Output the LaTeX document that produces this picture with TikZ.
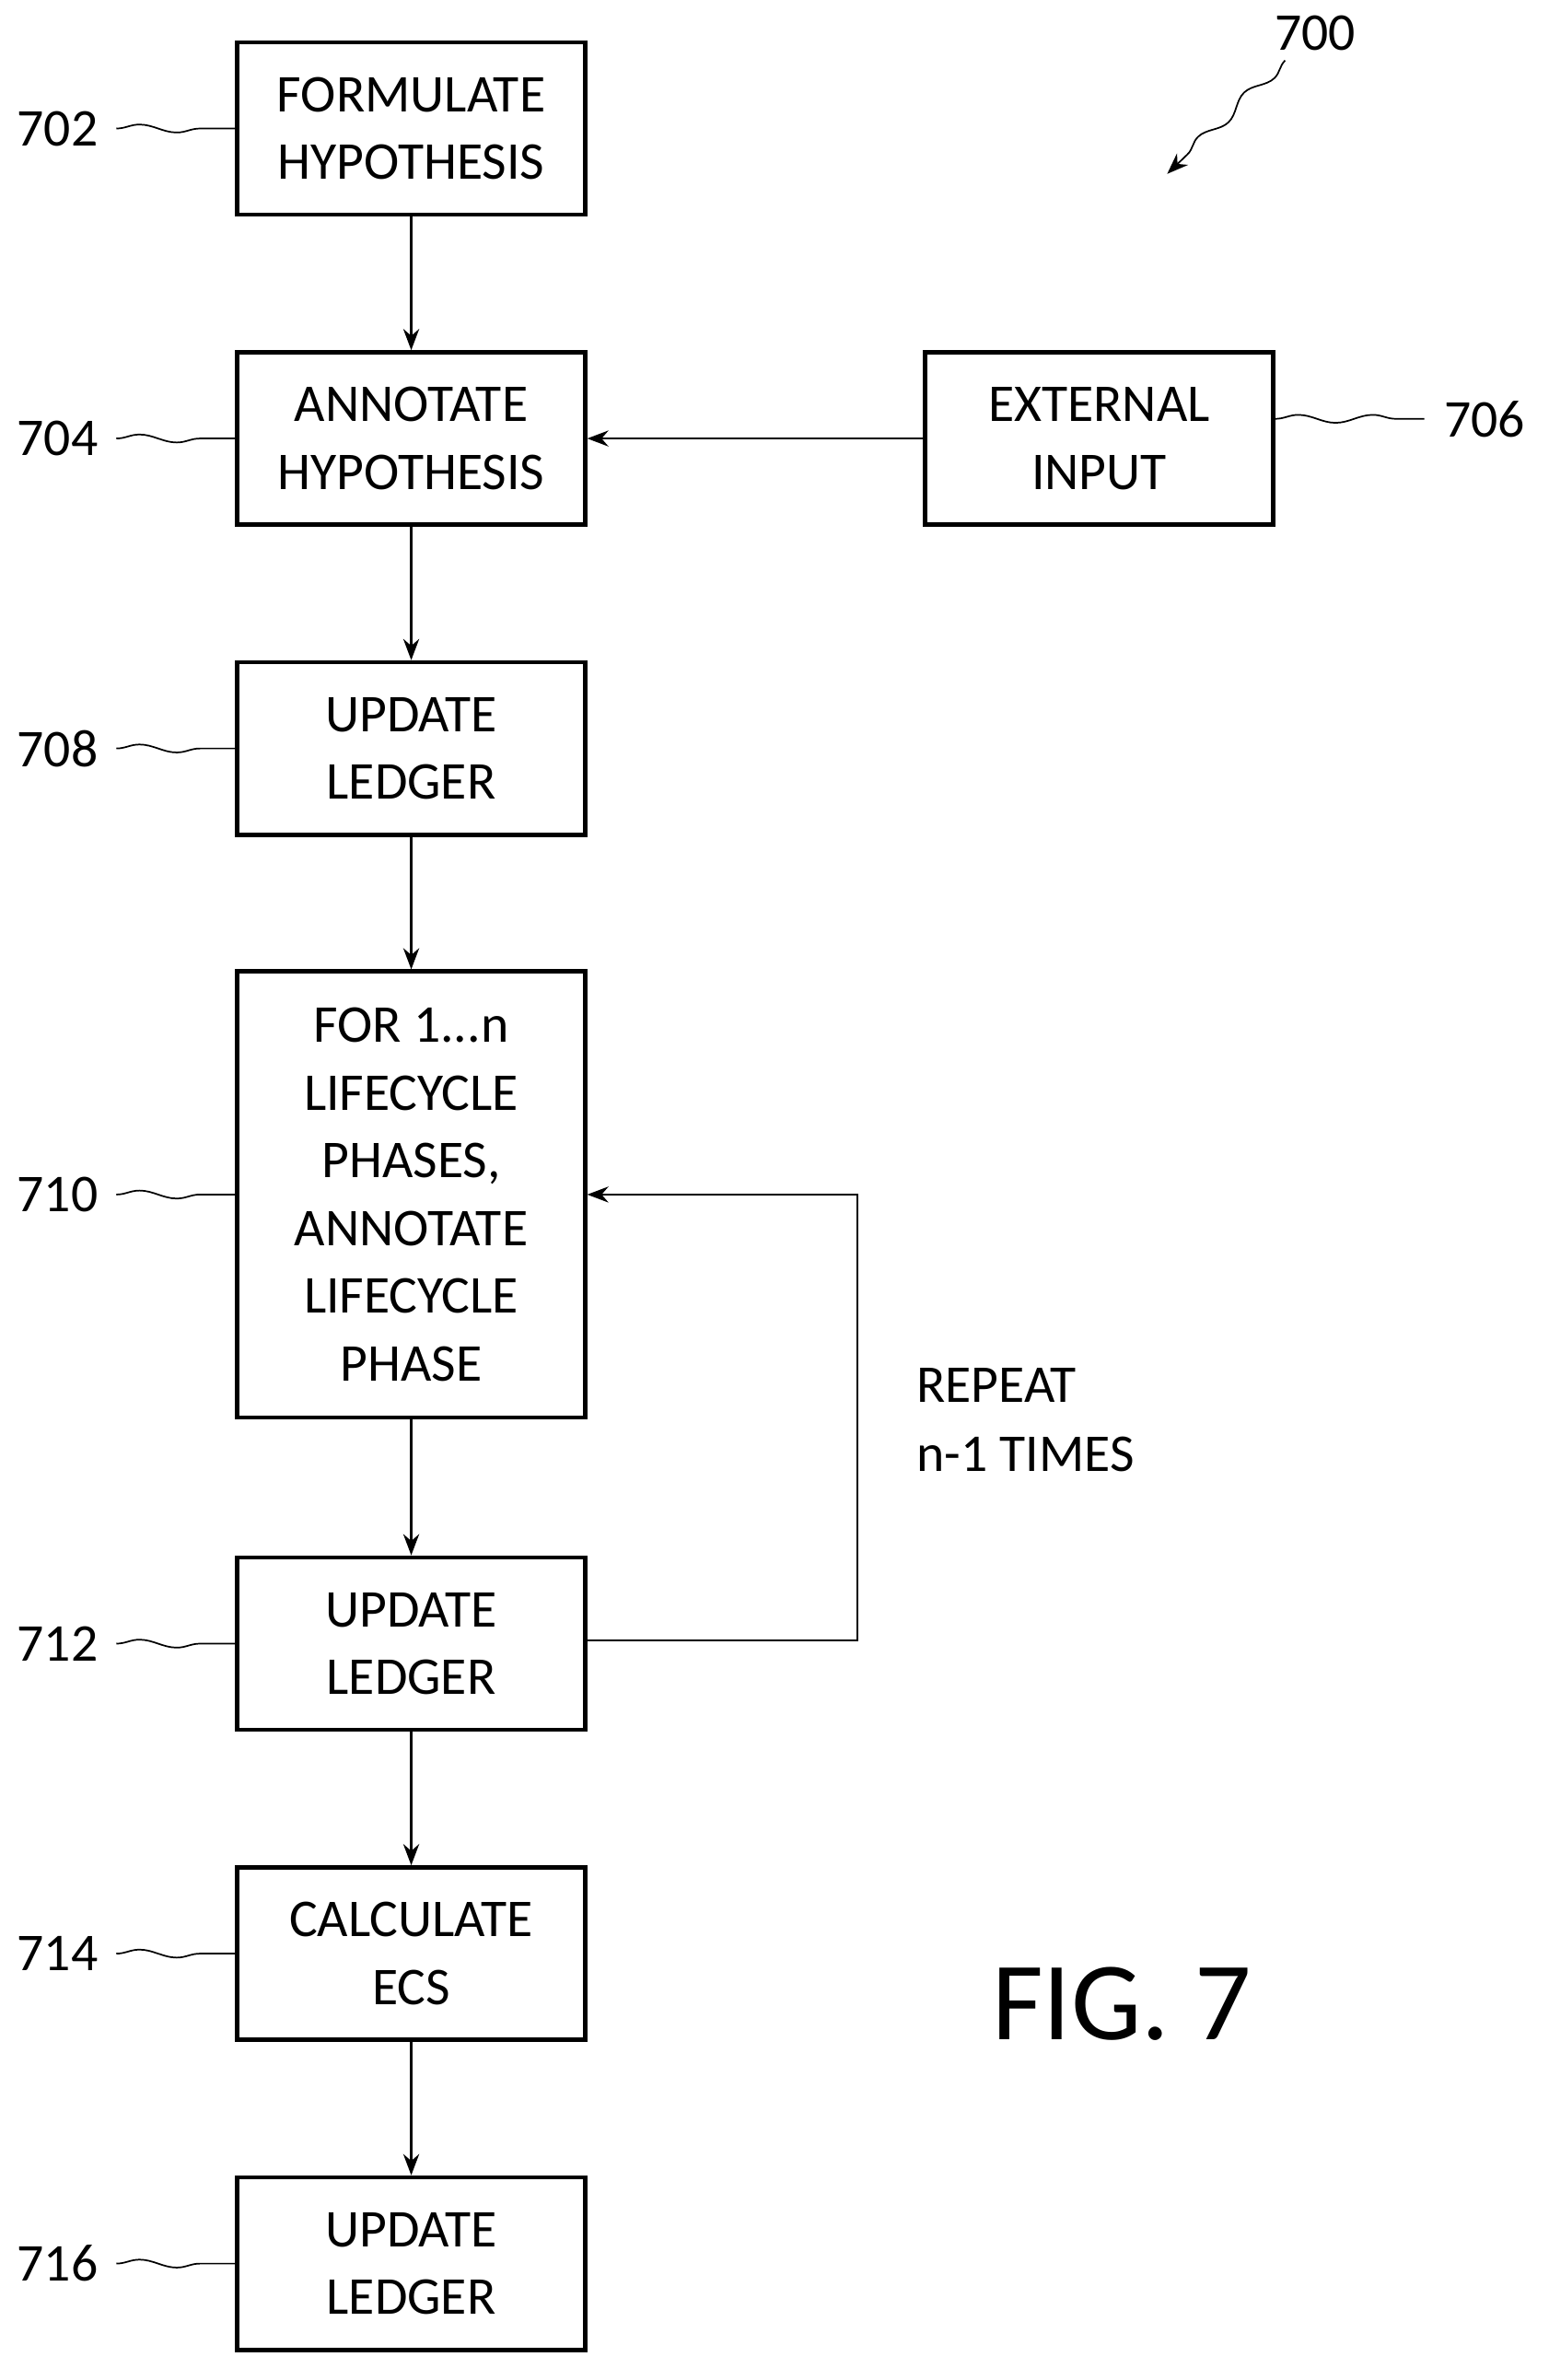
\documentclass[tikz,border=0pt]{standalone}
\usepackage{fontspec}
\setmainfont{Carlito}
\usetikzlibrary{decorations.pathmorphing,arrows.meta}
\begin{document}
\begin{tikzpicture}[x=0.02cm,y=-0.02cm,
 box/.style={draw,line width=1.6pt,minimum width=230*0.02cm,align=center,font=\fontsize{20}{25.5}\selectfont,inner sep=0pt},
 lab/.style={font=\fontsize{20}{24}\selectfont},
 arr/.style={-{Stealth[length=8pt,width=6pt]},line width=0.8pt},
 sq/.style={line width=0.6pt,decorate,decoration={snake,amplitude=1.5pt,segment length=28pt}}]
\useasboundingbox (0,0) rectangle (1024,1574);
\node[box,minimum height=114*0.02cm] (b702) at (272,85) {FORMULATE\\HYPOTHESIS};
\node[box,minimum height=114*0.02cm] (b704) at (272,290) {ANNOTATE\\HYPOTHESIS};
\node[box,minimum height=114*0.02cm] (b706) at (727,290) {EXTERNAL\\INPUT};
\node[box,minimum height=114*0.02cm] (b708) at (272,495) {UPDATE\\LEDGER};
\node[box,minimum height=295*0.02cm] (b710) at (272,790) {FOR 1...n\\LIFECYCLE\\PHASES,\\ANNOTATE\\LIFECYCLE\\PHASE};
\node[box,minimum height=114*0.02cm] (b712) at (272,1087) {UPDATE\\LEDGER};
\node[box,minimum height=114*0.02cm] (b714) at (272,1292) {CALCULATE\\ECS};
\node[box,minimum height=114*0.02cm] (b716) at (272,1497) {UPDATE\\LEDGER};
\draw[arr] (b702) -- (b704);
\draw[arr] (b704) -- (b708);
\draw[arr] (b708) -- (b710);
\draw[arr] (b710) -- (b712);
\draw[arr] (b712) -- (b714);
\draw[arr] (b714) -- (b716);
\draw[arr] (b706) -- (b704);
\coordinate (c1) at (567,1085);
\coordinate (c2) at (567,790);
\draw[arr] (b712.east |- c1) -- (c1) -- (c2) -- (b710.east |- c2);
\node[lab,align=left,anchor=west,font=\fontsize{20}{26}\selectfont] (rep) at (600,939) {REPEAT\\n-1 TIMES};
\foreach \n/\y in {702/85,704/290,708/495,710/790,712/1087,714/1292,716/1497}{
  \node[lab] (l\n) at (38,\y) {\n};
  \draw[sq] (l\n.east) ++(6,0) coordinate (s\n) -- (b\n.west |- s\n);
}
\node[lab] (l706) at (982,277) {706};
\draw[sq] (b706.east |- l706) -- ([xshift=-4pt]l706.west);
\node[lab] (l700) at (870,22) {700};
\coordinate (a700) at (772,115);
\draw[line width=0.6pt,decorate,decoration={snake,amplitude=2pt,segment length=24pt,post length=10pt},-{Stealth[length=8pt,width=6pt]}] (850,40) -- (a700);
\node[font=\fontsize{42}{48}\selectfont] (fig) at (742,1325) {FIG. 7};
\end{tikzpicture}
\end{document}
